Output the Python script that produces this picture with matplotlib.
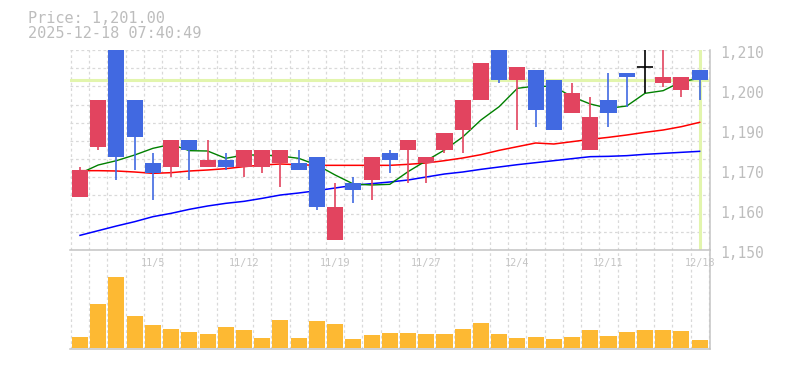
import matplotlib
matplotlib.use("Agg")
import matplotlib.pyplot as plt
import numpy as np
from matplotlib.patches import Rectangle
from matplotlib.transforms import offset_copy

# ---------------- data ----------------
dates = ["10/29", "10/30", "10/31", "11/4", "11/5", "11/6", "11/7", "11/10", "11/11",
         "11/12", "11/13", "11/14", "11/17", "11/18", "11/19", "11/20", "11/21", "11/25",
         "11/26", "11/27", "11/28", "12/1", "12/2", "12/3", "12/4", "12/5", "12/8",
         "12/9", "12/10", "12/11", "12/12", "12/15", "12/16", "12/17", "12/18"]

opens = [1166, 1181, 1213, 1195, 1176, 1175, 1183, 1175, 1177, 1175, 1175, 1176, 1176,
         1178, 1153, 1170, 1171, 1179, 1180, 1176, 1180, 1186, 1195, 1214, 1201, 1204,
         1201, 1191, 1180, 1195, 1203, 1205, 1200, 1198, 1204]
highs = [1175, 1195, 1215, 1195, 1179, 1183, 1183, 1183, 1179, 1180, 1180, 1180, 1180,
         1178, 1170, 1172, 1178, 1180, 1183, 1178, 1185, 1195, 1206, 1215, 1205, 1204,
         1201, 1200, 1196, 1203, 1203, 1213, 1213, 1202, 1204]
lows = [1166, 1180, 1171, 1174, 1165, 1172, 1171, 1175, 1174, 1172, 1173, 1169, 1174,
        1162, 1153, 1164, 1165, 1173, 1170, 1170, 1179, 1179, 1195, 1200, 1186, 1187,
        1186, 1191, 1180, 1187, 1193, 1197, 1199, 1196, 1195]
closes = [1174, 1195, 1178, 1184, 1173, 1183, 1180, 1177, 1175, 1180, 1180, 1180, 1174,
          1163, 1163, 1168, 1178, 1177, 1183, 1178, 1185, 1195, 1206, 1201, 1205, 1192,
          1186, 1197, 1190, 1191, 1202, 1205, 1202, 1202, 1201]

ma_short = [1173.0, 1175.5, 1176.8, 1178.5, 1180.5, 1181.7, 1179.8, 1179.7, 1177.5,
            1178.5, 1178.5, 1178.2, 1177.5, 1175.5, 1172.5, 1169.8, 1169.5, 1169.7,
            1173.5, 1176.8, 1180.0, 1183.9, 1189.0, 1193.0, 1198.5, 1199.2, 1199.0,
            1196.0, 1193.8, 1192.5, 1193.2, 1197.0, 1197.8, 1200.5, 1201.5]
ma_mid = [1173.8, 1173.8, 1173.7, 1173.4, 1173.0, 1173.2, 1173.7, 1174.0, 1174.4,
          1175.0, 1175.5, 1175.8, 1175.6, 1175.4, 1175.4, 1175.4, 1175.4, 1175.4,
          1175.7, 1176.1, 1176.8, 1177.6, 1178.6, 1179.9, 1181.0, 1182.1, 1181.8,
          1182.5, 1183.2, 1183.8, 1184.5, 1185.3, 1186.0, 1187.0, 1188.3]
ma_long = [1154.4, 1155.8, 1157.2, 1158.5, 1160.0, 1161.0, 1162.2, 1163.2, 1164.0,
           1164.6, 1165.5, 1166.5, 1167.1, 1167.8, 1168.6, 1169.4, 1169.9, 1170.4,
           1171.0, 1171.9, 1172.8, 1173.4, 1174.2, 1174.9, 1175.6, 1176.2, 1176.8,
           1177.4, 1178.0, 1178.1, 1178.3, 1178.7, 1179.0, 1179.3, 1179.6]

volumes = [10700, 43700, 70700, 31700, 22700, 18700, 15700, 13700, 20700, 17700,
           9700, 27700, 9700, 26700, 23700, 8700, 12700, 14700, 14700, 13700,
           13700, 18700, 24700, 13700, 9700, 10700, 8700, 10700, 17700, 11700,
           15700, 17700, 17700, 16700, 7700]

tick_labels = ["11/5", "11/12", "11/19", "11/27", "12/4", "12/11", "12/18"]
price_tick_values = [1150, 1162, 1174, 1186, 1198, 1210]
price_tick_labels = ["1,150", "1,160", "1,170", "1,190", "1,200", "1,210"]
current_price = 1201.0
title_text = "Price: 1,201.00"
time_text = "2025-12-18 07:40:49"

# ---------------- style ----------------
UP = "#e2445f"
DOWN = "#4169e1"
VOL = "#fdb933"
GRID = "#d9d9d9"
BORDER = "#c4c4c4"
TXT = "#bdbdbd"
HILITE = "#e2f5ad"
MONO = "DejaVu Sans Mono"

fig = plt.figure(figsize=(7.85, 3.70), dpi=100)
W, H = 785.0, 370.0
axp = fig.add_axes([70 / W, 1 - 250 / H, 640 / W, 200 / H])
axv = fig.add_axes([70 / W, 1 - 349.3 / H, 640 / W, 99 / H])

n = len(dates)
x = np.arange(n)
xlim = (-0.55, 34.57)

grid_kw = dict(color=GRID, lw=0.9, ls=(0, (2.2, 2.2)))

# ---- price panel ----
axp.set_xlim(*xlim)
axp.set_ylim(1150, 1210)
axp.set_xticks(np.arange(-0.5, n, 1.0))
axp.set_yticks(np.linspace(1150, 1210, 12))
axp.tick_params(length=0, labelbottom=False, labelleft=False)
axp.grid(True, **grid_kw)
axp.set_axisbelow(True)
for s in ("top", "left", "bottom"):
    axp.spines[s].set_visible(False)
axp.spines["right"].set_color(BORDER)
axp.spines["right"].set_linewidth(1.1)

axp.axhline(current_price, color=HILITE, lw=2.2, zorder=1)
axp.axvline(x[-1], color=HILITE, lw=2.2, zorder=1)

axp.plot(x, ma_long, color="#0000ff", lw=1.1, zorder=2)
axp.plot(x, ma_mid, color="#ff0000", lw=1.1, zorder=2)
axp.plot(x, ma_short, color="#008000", lw=1.0, zorder=2)

bw = 0.88
for i in range(n):
    o, h, l, c = opens[i], highs[i], lows[i], closes[i]
    if c > o:
        col = UP
    elif c < o:
        col = DOWN
    else:
        col = "#000000"
    axp.vlines(i, l, h, color=col, lw=1.2, zorder=3)
    if c == o:
        axp.hlines(o, i - bw / 2, i + bw / 2, color=col, lw=1.2, zorder=4)
    else:
        axp.add_patch(Rectangle((i - bw / 2, min(o, c)), bw, abs(c - o),
                                facecolor=col, edgecolor="none", zorder=4))

ylab_tr = offset_copy(axp.get_yaxis_transform(), fig=fig, x=10.5, y=-8.3, units="dots")
for v, lab in zip(price_tick_values, price_tick_labels):
    axp.text(1.0, v, lab, transform=ylab_tr, ha="left", va="baseline",
             fontsize=10.5, color=TXT, family=MONO, clip_on=False)

# ---- volume panel ----
axv.set_xlim(*xlim)
axv.set_ylim(-1600, 97400)
axv.set_xticks(np.arange(-0.5, n, 1.0))
axv.set_yticks([])
axv.tick_params(length=0, labelbottom=False, labelleft=False)
axv.grid(True, axis="x", **grid_kw)
axv.set_axisbelow(True)
axv.spines["left"].set_visible(False)
for s in ("top", "bottom", "right"):
    axv.spines[s].set_color(BORDER)
    axv.spines[s].set_linewidth(1.1)

axv.bar(x, volumes, width=bw, color=VOL, zorder=2)

xlab_tr = offset_copy(axv.get_xaxis_transform(), fig=fig, x=0, y=-15.7, units="dots")
for lab in tick_labels:
    axv.text(dates.index(lab), 1.0, lab, transform=xlab_tr, ha="center", va="baseline",
             fontsize=7.3, color="#c4c4c4", family=MONO, clip_on=False, zorder=5)

# ---- header text ----
fig.text(28 / W, 1 - 23.3 / H, title_text, ha="left", va="baseline",
         fontsize=11, color=TXT, family=MONO)
fig.text(28 / W, 1 - 37.8 / H, time_text, ha="left", va="baseline",
         fontsize=11, color=TXT, family=MONO)

fig.savefig("out.png", dpi=100, facecolor="white")
